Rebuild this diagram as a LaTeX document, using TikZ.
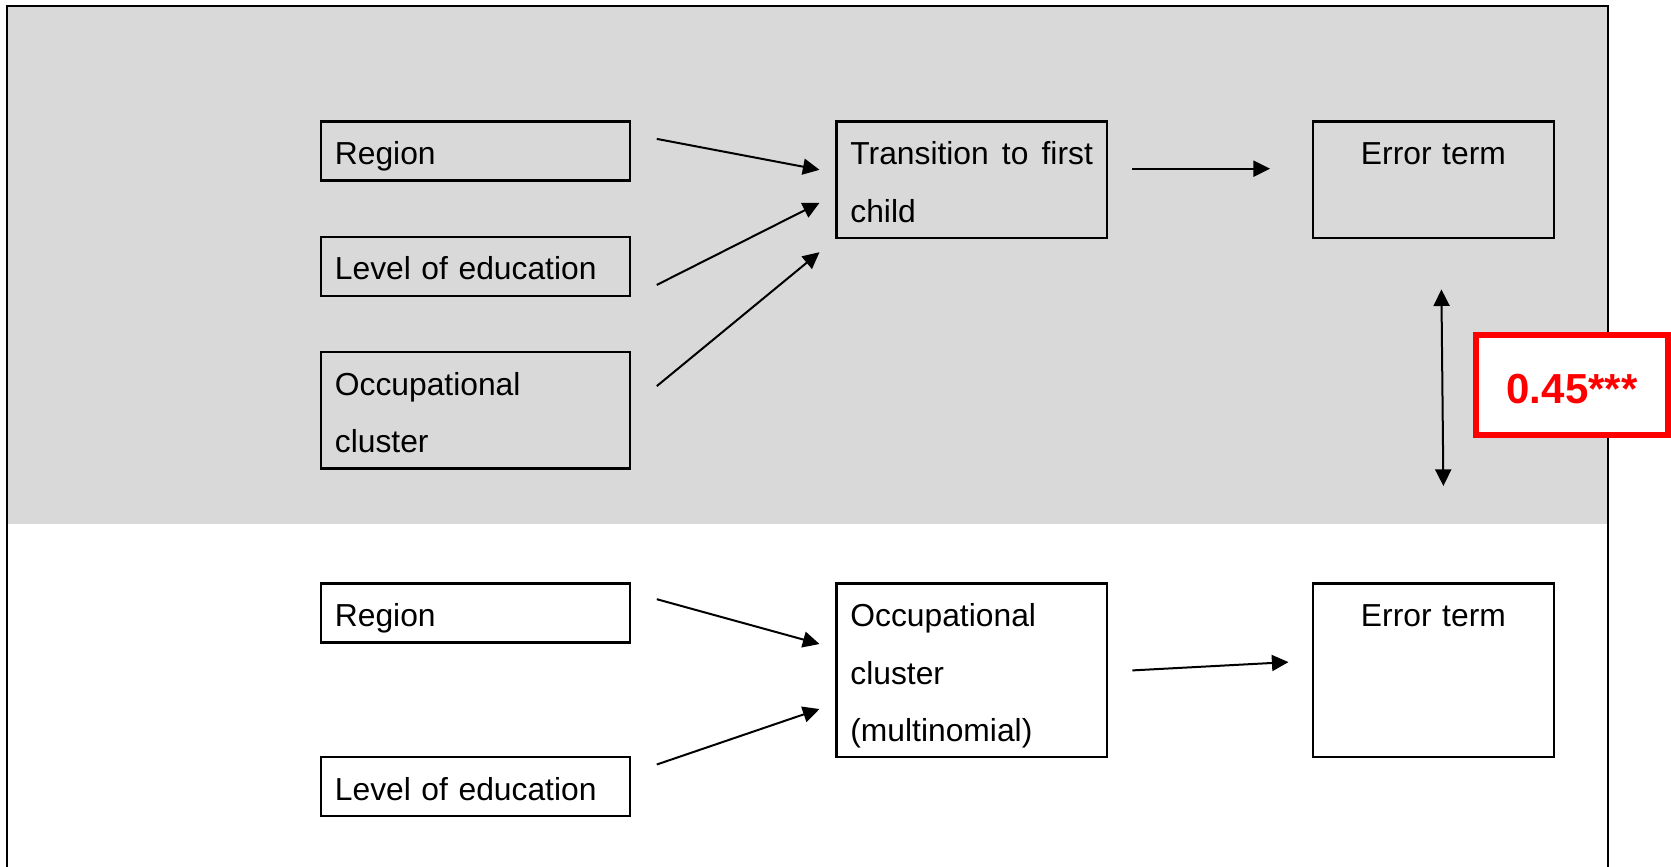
\documentclass[tikz,border=0pt]{standalone}
\usepackage{fontspec}
\setmainfont{Liberation Sans}
\usetikzlibrary{arrows.meta,calc}
\definecolor{panelgray}{HTML}{D9D9D9}

\begin{document}
\begin{tikzpicture}[x=0.5pt, y=-0.5pt]

\tikzstyle{box1}=[rectangle, draw, line width=1.4pt, anchor=north west, inner xsep=7pt, inner ysep=0pt, text height=21.5pt, text depth=8pt, align=left, font=\fontsize{15.9pt}{28.8pt}\selectfont]
\tikzstyle{arrow}=[-{Triangle[length=8.3pt,width=8pt]}, line width=1pt]
\tikzstyle{biarrow}=[{Triangle[length=8.3pt,width=8pt]}-{Triangle[length=8.3pt,width=8pt]}, line width=1pt]

\useasboundingbox (0,0) rectangle (1671,867);

% shaded upper panel and frame
\fill [panelgray] (7,5.5) rectangle (1607.5,524);
\draw [line width=1pt] (7,867) -- (7,5.5) -- (1607.5,5.5) -- (1607.5,867);

% upper model
\node (reg1) [box1, text width=140.5pt] at (319.5,120) {Region};
\node (edu1) [box1, text width=140.5pt] at (319.5,235.5) {Level of education};
\node (occ1) [box1, text width=140.5pt, text depth=36.8pt] at (319.5,350.6) {Occupational\\cluster};
\node (trans) [box1, text width=121.25pt, text depth=36.8pt, align=justify] at (835,120) {Transition to first\linebreak child};
\node (err1) [box1, text width=106.5pt, text depth=36.8pt, align=center] at (1311.5,120) {Error term};

% lower model
\node (reg2) [box1, text width=140.5pt] at (319.5,582) {Region};
\node (edu2) [box1, text width=140.5pt] at (319.5,755.6) {Level of education};
\node (occ2) [box1, text width=121.25pt, text depth=65.3pt] at (835,582) {Occupational\\cluster\\(multinomial)};
\node (err2) [box1, text width=106.5pt, text depth=65.3pt, align=center] at (1311.5,582) {Error term};

\draw [arrow] ($(reg1.east)+(25.5,-12)$) -- ($(trans.west)+(-15.5,-9.9)$);
\draw [arrow] ($(edu1.east)+(25.5,18.5)$) -- ($(trans.west)+(-15.5,23.1)$);
\draw [arrow] ($(occ1.east)+(25.5,-24.2)$) -- ($(trans.south west)+(-15.5,12.8)$);
\draw [arrow] ($(trans.east)+(24.1,-11)$) -- ($(err1.west)+(-41.5,-11)$);

\draw [arrow] ($(reg2.east)+(25.5,-13.7)$) -- ($(occ2.west)+(-15.5,-26.2)$);
\draw [arrow] ($(edu2.east)+(25.5,-22)$) -- ($(occ2.west)+(-15.5,38.8)$);
\draw [arrow] ($(occ2.east)+(24.1,0.2)$) -- ($(err2.west)+(-23,-8.1)$);

\draw [biarrow] ($(err1.south)+(8,50)$) -- ($(err2.north)+(10,-96)$);

\node (corr) [draw=red, line width=2.85pt, fill=white, minimum width=96pt, minimum height=50pt, text height=18pt, text depth=0pt, text=red, font=\fontsize{21pt}{25pt}\selectfont\bfseries] at (1572,385) {0.45***};

\end{tikzpicture}
\end{document}
